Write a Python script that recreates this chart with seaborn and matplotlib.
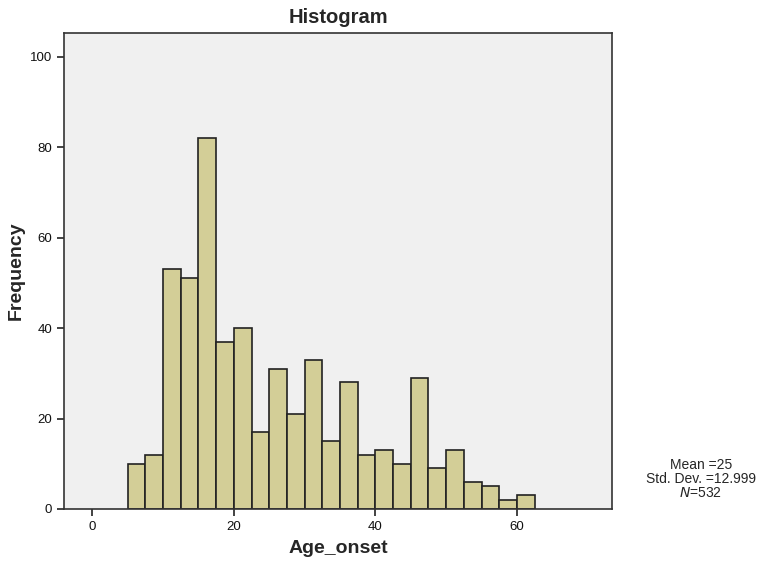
import matplotlib
matplotlib.use("Agg")
import matplotlib.pyplot as plt
import seaborn as sns
import pandas as pd

# histogram counts, bins of width 2.5 starting at 5
bin_start = 5.0
bin_width = 2.5
counts = [10, 12, 53, 51, 82, 37, 40, 17, 31, 21, 33, 15, 28, 12, 13, 10, 29, 9, 13, 6, 5, 2, 3]
x_ticks = [0, 20, 40, 60]
y_ticks = [0, 20, 40, 60, 80, 100]
stats_text = ["Mean =25", "Std. Dev. =12.999", "N=532"]

edges = [bin_start + bin_width * i for i in range(len(counts) + 1)]
df = pd.DataFrame({"Age_onset": [(a + b) / 2 for a, b in zip(edges[:-1], edges[1:])],
                   "count": counts})

sns.set_style("white")
plt.rcParams["font.family"] = ["Liberation Sans", "DejaVu Sans"]

fig = plt.figure(figsize=(7.66, 5.68), dpi=100)
ax = fig.add_axes([0.0836, 0.104, 0.716, 0.838])
ax.set_facecolor("#f0f0f0")

sns.histplot(data=df, x="Age_onset", weights="count", bins=edges, ax=ax,
             color="#d3ce97", alpha=1, edgecolor="#222222", linewidth=1.2)

ax.set_xlim(-4, 73.5)
ax.set_ylim(0, 105.3)
ax.set_xticks(x_ticks)
ax.set_yticks(y_ticks)
ax.tick_params(axis="both", direction="out", length=5, width=1.2, color="#222222",
               labelsize=9.5, labelcolor="#111111", bottom=True, left=True)
for s in ax.spines.values():
    s.set_color("#333333")
    s.set_linewidth(1.2)

ax.set_xlabel("Age_onset", fontsize=14, fontweight="bold", labelpad=5)
ax.set_ylabel("Frequency", fontsize=14, fontweight="bold", labelpad=4)
ax.set_title("Histogram", fontsize=14.5, fontweight="bold", pad=7)

fig.text(0.915, 0.181, stats_text[0], ha="center", va="center", fontsize=10)
fig.text(0.915, 0.156, stats_text[1], ha="center", va="center", fontsize=10)
fig.text(0.915, 0.132, r"$\it{N}$" + stats_text[2][1:], ha="center", va="center", fontsize=10)

fig.savefig("out.png", dpi=100)
